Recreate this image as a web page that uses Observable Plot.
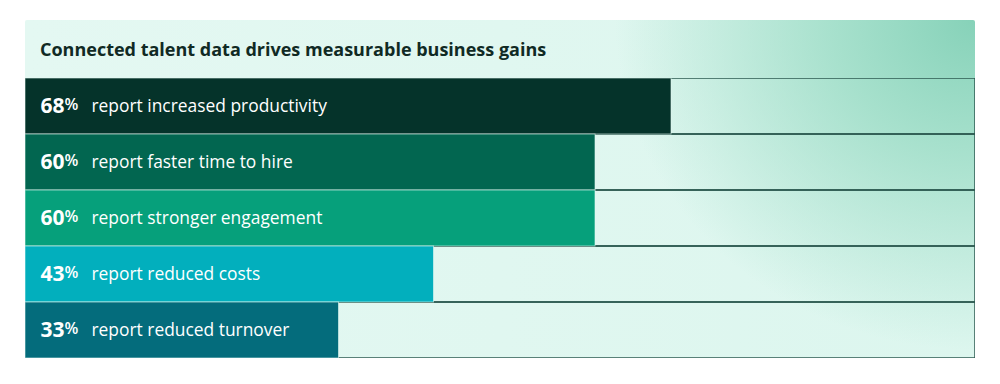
<!DOCTYPE html>
<html>
<head>
<meta charset="utf-8">
<script src="https://cdn.jsdelivr.net/npm/d3@7"></script>
<script src="https://cdn.jsdelivr.net/npm/@observablehq/plot@0.6"></script>
<style>
  html, body { margin: 0; padding: 0; background: #ffffff; }
  #panel {
    position: absolute; left: 25px; top: 20px; width: 950px; height: 338px;
    background:
      radial-gradient(ellipse 360px 330px at 100% 0%, rgba(130,208,182,0.95) 0%, rgba(158,221,199,0.85) 40%, rgba(220,246,238,0) 100%),
      linear-gradient(90deg, #e4f8f2 0%, #dcf6ee 100%);
    border-radius: 2px;
    font-family: "Open Sans", sans-serif;
  }
  #title {
    height: 58px; line-height: 58px; padding-left: 15px;
    font-size: 18px; font-weight: 700; color: #102a24;
  }
  #chart svg { display: block; }
</style>
</head>
<body>
<div id="panel">
  <div id="title">Connected talent data drives measurable business gains</div>
  <div id="chart"></div>
</div>
<script>
const labels = ["report increased productivity", "report faster time to hire", "report stronger engagement", "report reduced costs", "report reduced turnover"];
const values = [68, 60, 60, 43, 33];
const colors = ["#05332a", "#026650", "#06a07b", "#02afbd", "#046c7c"];

const data = labels.map((label, i) => ({label, value: values[i], color: colors[i]}));

const chart = Plot.plot({
  width: 950,
  height: 280,
  margin: 0,
  x: {domain: [0, 100], axis: null},
  y: {domain: labels, padding: 0, axis: null},
  style: {fontFamily: "'Open Sans', sans-serif", background: "transparent"},
  marks: [
    Plot.barX(data, {x1: 0, x2: 100, y: "label", fill: "none", stroke: "#2c5a50", strokeWidth: 1.5}),
    Plot.barX(data, {x: "value", y: "label", fill: "color", stroke: "rgba(230,250,244,0.6)", strokeWidth: 1}),
    Plot.text(data, {y: "label", frameAnchor: "left", text: d => String(d.value), dx: 15, fill: "white", fontSize: 21, fontWeight: 700, textAnchor: "start"}),
    Plot.text(data, {y: "label", frameAnchor: "left", text: () => "%", dx: 39, dy: -2, fill: "white", fontSize: 16, fontWeight: 600, textAnchor: "start"}),
    Plot.text(data, {y: "label", frameAnchor: "left", text: "label", dx: 66, fill: "white", fontSize: 17.4, fontWeight: 500, textAnchor: "start"})
  ]
});
document.getElementById("chart").appendChild(chart);
</script>
</body>
</html>
